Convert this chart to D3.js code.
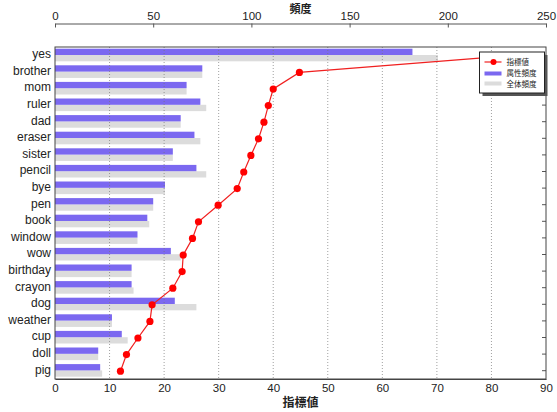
<!DOCTYPE html>
<html>
<head>
<meta charset="utf-8">
<script src="https://cdn.jsdelivr.net/npm/d3@7"></script>
<style>
  body { margin: 0; background: #fff; }
  svg text { font-family: "Liberation Sans", Arial, sans-serif; fill: #222; }
  .jp { font-family: "Noto Sans CJK JP", sans-serif; }
</style>
</head>
<body>
<div id="chart"></div>
<script>
// words, top to bottom
const words = ["yes", "brother", "mom", "ruler", "dad", "eraser", "sister", "pencil", "bye", "pen",
    "book", "window", "wow", "birthday", "crayon", "dog", "weather", "cup", "doll", "pig"];
// 属性頻度 (top axis)
const attrFreq = [182, 75, 67, 74, 64, 71, 60, 72, 56, 50, 47, 42, 59, 39, 39, 61, 29, 34, 22, 23];
// 全体頻度 (top axis)
const totalFreq = [195, 75, 67, 77, 64, 74, 60, 77, 56, 50, 48, 42, 64, 39, 40, 72, 29, 37, 22, 24];
// 指標値 (bottom axis)
const score = [83, 44.8, 40.0, 39.1, 38.3, 37.3, 35.9, 34.6, 33.4, 29.9,
    26.3, 25.2, 23.5, 23.3, 21.6, 17.8, 17.4, 15.2, 13.1, 12.0];
const bottomTicks = [0, 10, 20, 30, 40, 50, 60, 70, 80, 90];
const topTicks = [0, 50, 100, 150, 200, 250];

const W = 557, H = 412;
const margin = {top: 47, right: 11, bottom: 33, left: 55};
const plotW = W - margin.left - margin.right;
const plotH = H - margin.top - margin.bottom;

const svg = d3.select("#chart").append("svg")
    .attr("width", W)
    .attr("height", H);

const x = d3.scaleLinear().domain([0, 90]).range([0, plotW]);
const xTop = d3.scaleLinear().domain([0, 250]).range([0, plotW]);
const y = d3.scaleBand().domain(words).range([0, plotH]);

const chart = svg.append("g")
    .attr("transform", `translate(${margin.left}, ${margin.top})`);

const bw = y.bandwidth();
const barH = bw * 0.38;

// bars
chart.selectAll(".total")
    .data(words)
    .join("rect")
    .attr("class", "total")
    .attr("x", 0)
    .attr("y", (d, i) => y(d) + 1.7 + barH)
    .attr("width", (d, i) => xTop(totalFreq[i]))
    .attr("height", barH)
    .attr("fill", "#dcdcdc");

chart.selectAll(".attr")
    .data(words)
    .join("rect")
    .attr("class", "attr")
    .attr("x", 0)
    .attr("y", d => y(d) + 1.7)
    .attr("width", (d, i) => xTop(attrFreq[i]))
    .attr("height", barH)
    .attr("fill", "#7b68f0");

// grid on top of bars
chart.selectAll(".grid")
    .data(bottomTicks.slice(1, -1))
    .join("line")
    .attr("class", "grid")
    .attr("x1", d => x(d)).attr("x2", d => x(d))
    .attr("y1", 0).attr("y2", plotH)
    .attr("stroke", "#777")
    .attr("stroke-width", 0.7)
    .attr("stroke-dasharray", "1,2");

// left labels
chart.selectAll(".lbl")
    .data(words)
    .join("text")
    .attr("class", "lbl")
    .attr("x", -4)
    .attr("y", d => y(d) + bw * 0.42)
    .attr("dy", "0.35em")
    .attr("text-anchor", "end")
    .attr("font-size", 12)
    .text(d => d);

// right-side inward ticks
chart.selectAll(".rtick")
    .data(words)
    .join("line")
    .attr("class", "rtick")
    .attr("x1", plotW - 4).attr("x2", plotW)
    .attr("y1", d => y(d) + bw / 2).attr("y2", d => y(d) + bw / 2)
    .attr("stroke", "#555");

// frame
chart.append("rect")
    .attr("width", plotW)
    .attr("height", plotH)
    .attr("fill", "none")
    .attr("stroke", "#444")
    .attr("stroke-width", 1);

// score line
const line = d3.line()
    .x((d, i) => x(d))
    .y((d, i) => y(words[i]) + bw * 0.53);

chart.append("path")
    .datum(score)
    .attr("d", line)
    .attr("fill", "none")
    .attr("stroke", "#f02020")
    .attr("stroke-width", 1.2);

chart.selectAll(".pt")
    .data(score)
    .join("circle")
    .attr("class", "pt")
    .attr("cx", d => x(d))
    .attr("cy", (d, i) => y(words[i]) + bw * 0.53)
    .attr("r", 3.6)
    .attr("fill", "#ff0000");

// bottom axis
const xAxis = d3.axisBottom(x).tickValues(bottomTicks).tickSize(0).tickPadding(5);
const xAxisG = chart.append("g")
    .attr("transform", `translate(0, ${plotH})`)
    .call(xAxis);
xAxisG.select(".domain").attr("stroke", "#444");
xAxisG.selectAll("text").attr("font-size", 11.5).attr("fill", "#222");

// top axis
const topAxis = d3.axisTop(xTop).tickValues(topTicks).tickSizeInner(-4).tickSizeOuter(0).tickPadding(4);
const topG = svg.append("g")
    .attr("transform", `translate(${margin.left}, 23.5)`)
    .call(topAxis);
topG.select(".domain").attr("stroke", "#555");
topG.selectAll(".tick line").attr("stroke", "#555");
topG.selectAll("text").attr("font-size", 11.5).attr("fill", "#222");

// axis titles
svg.append("text")
    .attr("class", "jp")
    .attr("x", margin.left + plotW / 2)
    .attr("y", 12.5)
    .attr("text-anchor", "middle")
    .attr("font-size", 11)
    .attr("font-weight", "bold")
    .text("頻度");

svg.append("text")
    .attr("class", "jp")
    .attr("x", margin.left + plotW / 2)
    .attr("y", 407)
    .attr("text-anchor", "middle")
    .attr("font-size", 12)
    .attr("font-weight", "bold")
    .text("指標値");

// legend
const lg = svg.append("g").attr("transform", "translate(479.5, 52)");
lg.append("rect")
    .attr("x", 3).attr("y", 3)
    .attr("width", 65).attr("height", 41)
    .attr("fill", "#555");
lg.append("rect")
    .attr("width", 65).attr("height", 41)
    .attr("fill", "#fff")
    .attr("stroke", "#222");
lg.append("line")
    .attr("x1", 5).attr("x2", 22).attr("y1", 10).attr("y2", 10)
    .attr("stroke", "#f02020").attr("stroke-width", 1.2);
lg.append("circle").attr("cx", 14).attr("cy", 10).attr("r", 3).attr("fill", "#ff0000");
lg.append("rect").attr("x", 5).attr("y", 19.5).attr("width", 17).attr("height", 4).attr("fill", "#7b68f0");
lg.append("rect").attr("x", 5).attr("y", 29.5).attr("width", 17).attr("height", 4).attr("fill", "#dcdcdc");
const legendLabels = ["指標値", "属性頻度", "全体頻度"];
lg.selectAll(".lt")
    .data(legendLabels)
    .join("text")
    .attr("class", "lt jp")
    .attr("x", 27)
    .attr("y", (d, i) => 10 + i * 11)
    .attr("dy", "0.35em")
    .attr("font-size", 7.5)
    .text(d => d);
</script>
</body>
</html>
